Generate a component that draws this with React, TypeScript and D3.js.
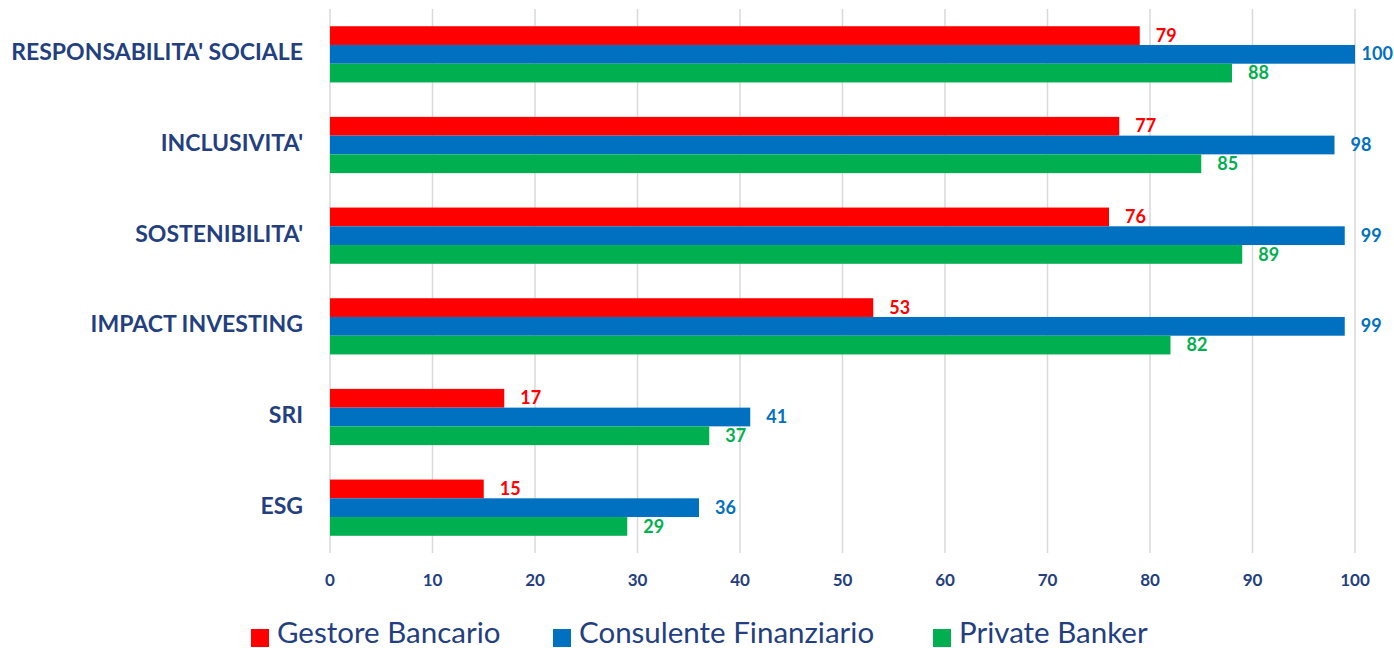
import React from "react";
import * as d3 from "d3";

const categories = ["RESPONSABILITA' SOCIALE", "INCLUSIVITA'", "SOSTENIBILITA'", "IMPACT INVESTING", "SRI", "ESG"];
const seriesNames = ["Gestore Bancario", "Consulente Finanziario", "Private Banker"];
const gestoreBancario = [79, 77, 76, 53, 17, 15];
const consulenteFinanziario = [100, 98, 99, 99, 41, 36];
const privateBanker = [88, 85, 89, 82, 37, 29];
const xTicks = [0, 10, 20, 30, 40, 50, 60, 70, 80, 90, 100];
const colors = ["#FF0000", "#0070C0", "#00B050"];

const NAVY = "#243F7F";
const FONT = "Lato, 'Open Sans', sans-serif";

export default function App() {
  const W = 1394, H = 648;
  const x = d3.scaleLinear().domain([0, 100]).range([330, 1355]);
  const y = d3.scaleBand<string>().domain(categories).range([9, 553]).paddingInner(0.38).paddingOuter(0.19);
  const sub = d3.scaleBand<number>().domain([0, 1, 2]).range([0, y.bandwidth()]);
  const series = [gestoreBancario, consulenteFinanziario, privateBanker];
  const legendX = [251, 553, 933];

  return (
    <svg width={W} height={H} style={{ position: "absolute", left: 0, top: 0, background: "#fff" }}>
      <rect width={W} height={H} fill="#fff" />
      {xTicks.map((t) => (
        <line key={"g" + t} x1={x(t)} x2={x(t)} y1={9} y2={553} stroke="#D9D9D9" strokeWidth={1.5} />
      ))}
      {categories.map((c, i) => (
        <g key={c}>
          {series.map((s, k) => {
            const y0 = (y(c) as number) + (sub(k) as number);
            const h = sub.bandwidth();
            const label = String(s[i]);
            const approxW = label.length * 10.5;
            const lx = Math.min(x(s[i]) + 16, W - 1 - approxW);
            return (
              <g key={k}>
                <rect x={x(0)} y={y0} width={x(s[i]) - x(0)} height={h} fill={colors[k]} />
                <text x={lx} y={y0 + h / 2 + 1.5} dominantBaseline="middle" fill={colors[k]}
                  fontFamily={FONT} fontWeight={700} fontSize={18}>{label}</text>
              </g>
            );
          })}
          <text x={303} y={(y(c) as number) + y.bandwidth() / 2} textAnchor="end" dominantBaseline="middle"
            fill={NAVY} fontFamily={FONT} fontWeight={700} fontSize={23}>{c}</text>
        </g>
      ))}
      {xTicks.map((t) => (
        <text key={"t" + t} x={x(t)} y={582} textAnchor="middle" dominantBaseline="middle" fill={NAVY}
          fontFamily={FONT} fontWeight={700} fontSize={17}>{t}</text>
      ))}
      {seriesNames.map((n, k) => (
        <g key={n}>
          <rect x={legendX[k]} y={629} width={18} height={18} fill={colors[k]} />
          <text x={legendX[k] + 26} y={636} dominantBaseline="middle" fill={NAVY} fontFamily={FONT}
            fontSize={29.5}>{n}</text>
        </g>
      ))}
    </svg>
  );
}
